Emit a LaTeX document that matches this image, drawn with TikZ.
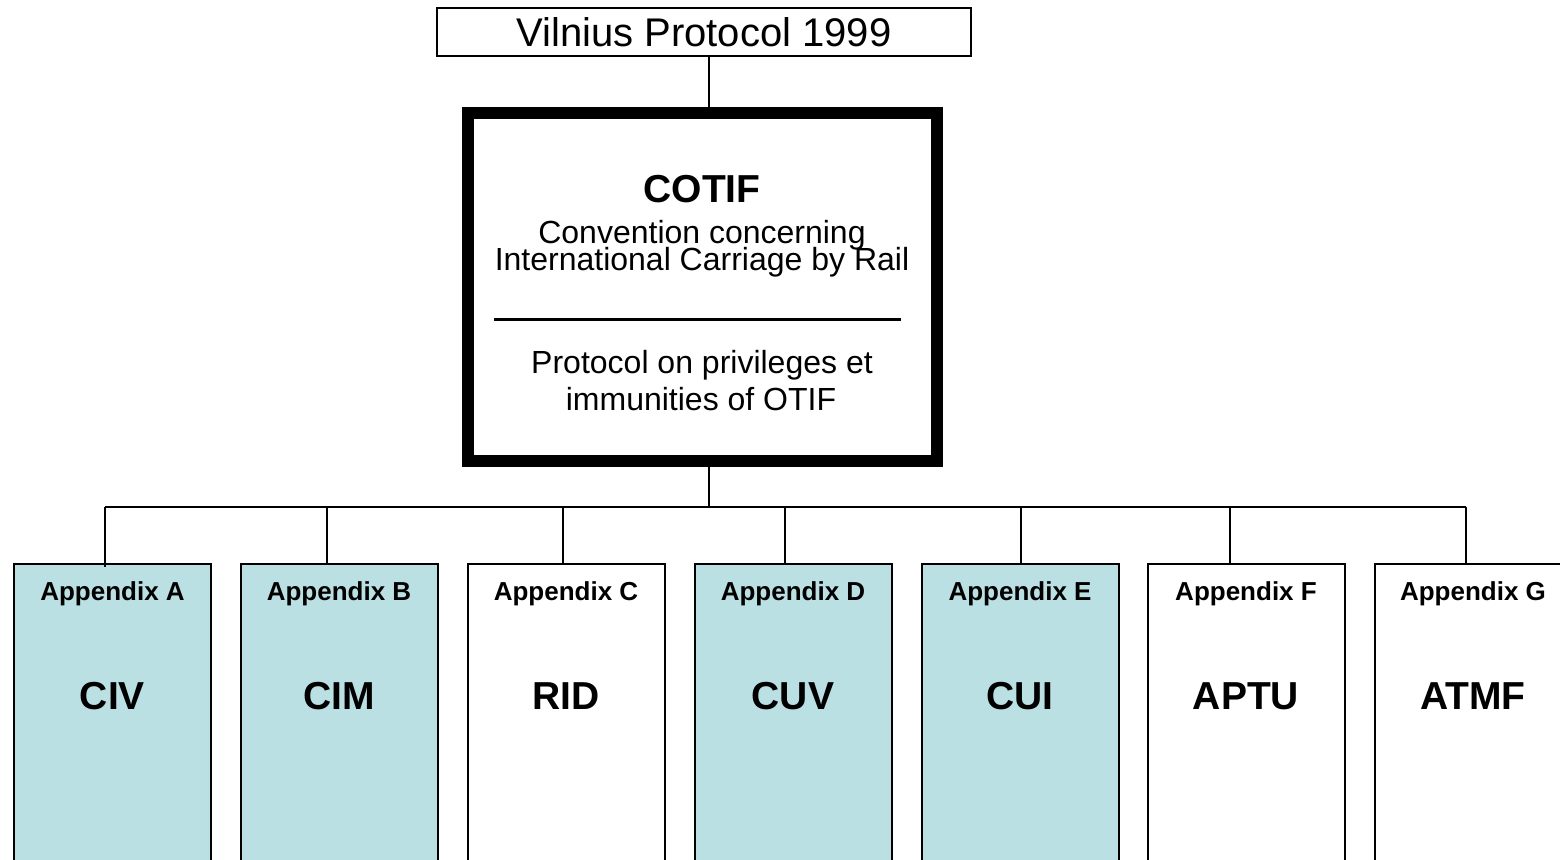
\documentclass[tikz,border=0pt]{standalone}
\usepackage{fontspec}
\setmainfont{Liberation Sans}
\definecolor{apxblue}{RGB}{187,224,227}
\usetikzlibrary{positioning}
\tikzset{
  apxbox/.style={draw,line width=2pt,minimum width=197pt,minimum height=330pt,
                 anchor=north,inner sep=0pt},
  apxlabel/.style={anchor=base,inner sep=0pt,font=\fontsize{26}{30}\selectfont\bfseries},
  apxname/.style={anchor=base,inner sep=0pt,font=\fontsize{39}{45}\selectfont\bfseries},
  bodytext/.style={anchor=base,inner sep=0pt,font=\fontsize{32}{37}\selectfont},
  link/.style={line width=2pt}
}

\begin{document}
\begin{tikzpicture}[x=1pt,y=-1pt]
  \useasboundingbox (0,0) rectangle (1560,859);
  %% Protocol box
  \node[draw,line width=1.5pt,minimum width=534pt,minimum height=48pt,inner sep=0pt,
        font=\fontsize{40}{46}\selectfont] (vilnius) at (704,32) {Vilnius Protocol 1999};
  %% COTIF box
  \node[draw,line width=12pt,minimum width=469pt,minimum height=348pt,inner sep=0pt]
        (cotif) at (702.5,287) {};
  \node[anchor=base,inner sep=0pt,font=\fontsize{39}{45}\selectfont\bfseries]
        (cotiftitle) at (702,202) {COTIF};
  \node[bodytext] (cotifline1) at (702,243) {Convention concerning};
  \node[bodytext] (cotifline2) at (702,270) {International Carriage by Rail};
  \node[inner sep=0pt] (seprule) at (697.5,319) {\rule{407pt}{3pt}};
  \node[bodytext] (protline1) at (702,373) {Protocol on privileges et};
  \node[bodytext] (protline2) at (701,410) {immunities of OTIF};
  %% Appendices
  \node[apxbox,fill=apxblue] (apxA) at (112.5,563) {};
  \node[apxlabel] at (112.5,600) {Appendix A};
  \node[apxname] (civ) at (112.5,709) {CIV};
  \node[apxbox,fill=apxblue] (apxB) at (339,563) {};
  \node[apxlabel] at (339,600) {Appendix B};
  \node[apxname] (cim) at (339,709) {CIM};
  \node[apxbox] (apxC) at (566,563) {};
  \node[apxlabel] at (566,600) {Appendix C};
  \node[apxname] (rid) at (566,709) {RID};
  \node[apxbox,fill=apxblue] (apxD) at (793,563) {};
  \node[apxlabel] at (793,600) {Appendix D};
  \node[apxname] (cuv) at (793,709) {CUV};
  \node[apxbox,fill=apxblue] (apxE) at (1020,563) {};
  \node[apxlabel] at (1020,600) {Appendix E};
  \node[apxname] (cui) at (1020,709) {CUI};
  \node[apxbox] (apxF) at (1246,563) {};
  \node[apxlabel] at (1246,600) {Appendix F};
  \node[apxname] (aptu) at (1246,709) {APTU};
  \node[apxbox] (apxG) at (1473,563) {};
  \node[apxlabel] at (1473,600) {Appendix G};
  \node[apxname] (atmf) at (1473,709) {ATMF};
  %% Connectors
  \coordinate (trunk) at (709,507);
  \coordinate (dropA) at (105,507);
  \coordinate (dropB) at (327,507);
  \coordinate (dropC) at (563,507);
  \coordinate (dropD) at (785,507);
  \coordinate (dropE) at (1021,507);
  \coordinate (dropF) at (1230,507);
  \coordinate (dropG) at (1466,507);
  \draw[link] (vilnius.south -| trunk) -- (cotif.north -| trunk);
  \draw[link] (cotif.south -| trunk) -- (trunk);
  \draw[link] (dropA) -- (dropG);
  \draw[link] (dropA) -- ([yshift=-4pt]dropA |- apxA.north);
  \draw[link] (dropB) -- (dropB |- apxB.north);
  \draw[link] (dropC) -- (dropC |- apxC.north);
  \draw[link] (dropD) -- (dropD |- apxD.north);
  \draw[link] (dropE) -- (dropE |- apxE.north);
  \draw[link] (dropF) -- (dropF |- apxF.north);
  \draw[link] (dropG) -- (dropG |- apxG.north);
\end{tikzpicture}
\end{document}
